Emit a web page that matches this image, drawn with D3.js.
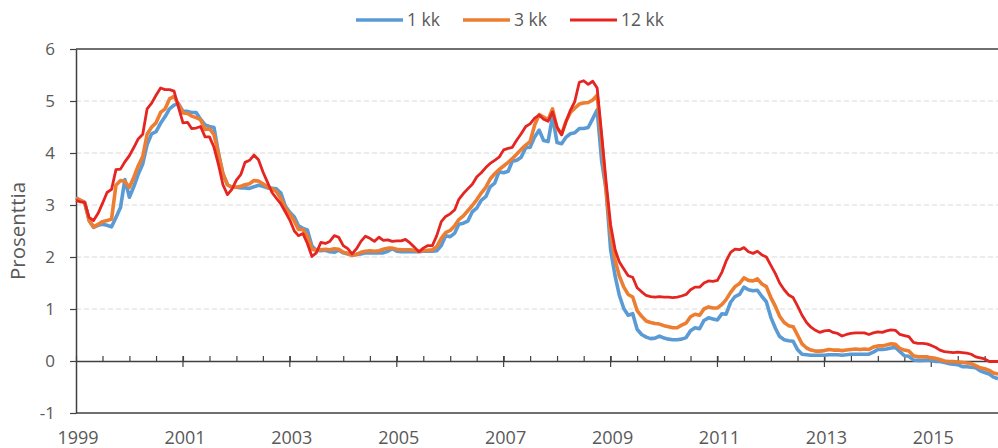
<!DOCTYPE html>
<html>
<head>
<meta charset="utf-8">
<script src="https://cdnjs.cloudflare.com/ajax/libs/d3/7.8.5/d3.min.js"></script>
<style>
  body { margin: 0; background: #fff; }
  svg text { font-family: "Open Sans", sans-serif; fill: #595959; }
</style>
</head>
<body>
<div id="chart"></div>
<script>
// Euribor monthly averages, Jan 1999 - Apr 2016
const startMonth = new Date(1999, 0, 1);

const oneMonth = [
  3.14, 3.09, 3.05, 2.70, 2.57, 2.61, 2.63, 2.61, 2.58, 2.76, 2.95, 3.49,
  3.15, 3.36, 3.59, 3.79, 4.16, 4.37, 4.41, 4.57, 4.70, 4.85, 4.92, 4.95,
  4.80, 4.80, 4.78, 4.78, 4.65, 4.54, 4.51, 4.49, 3.99, 3.60, 3.39, 3.34,
  3.34, 3.33, 3.33, 3.32, 3.35, 3.38, 3.36, 3.33, 3.32, 3.31, 3.23, 2.98,
  2.86, 2.77, 2.60, 2.55, 2.52, 2.21, 2.13, 2.12, 2.13, 2.10, 2.09, 2.13,
  2.08, 2.06, 2.04, 2.05, 2.06, 2.08, 2.08, 2.08, 2.08, 2.08, 2.11, 2.16,
  2.11, 2.10, 2.10, 2.10, 2.10, 2.10, 2.11, 2.11, 2.11, 2.12, 2.22, 2.41,
  2.39, 2.46, 2.63, 2.65, 2.69, 2.87, 2.94, 3.09, 3.16, 3.35, 3.42, 3.64,
  3.62, 3.65, 3.84, 3.86, 3.92, 4.10, 4.11, 4.31, 4.44, 4.24, 4.22, 4.71,
  4.20, 4.18, 4.30, 4.37, 4.39, 4.47, 4.47, 4.49, 4.66, 4.83, 3.84, 3.29,
  2.14, 1.63, 1.27, 1.01, 0.88, 0.91, 0.61, 0.51, 0.46, 0.43, 0.44, 0.48,
  0.44, 0.42, 0.41, 0.41, 0.42, 0.45, 0.58, 0.64, 0.62, 0.78, 0.83, 0.81,
  0.79, 0.91, 0.90, 1.13, 1.24, 1.28, 1.42, 1.37, 1.35, 1.36, 1.24, 1.14,
  0.84, 0.63, 0.47, 0.41, 0.39, 0.38, 0.22, 0.13, 0.12, 0.11, 0.11, 0.11,
  0.11, 0.12, 0.12, 0.12, 0.11, 0.12, 0.13, 0.13, 0.13, 0.13, 0.13, 0.17,
  0.22, 0.22, 0.23, 0.25, 0.26, 0.18, 0.10, 0.09, 0.02, 0.01, 0.01, 0.02,
  0.01, -0.01, -0.01, -0.03, -0.05, -0.06, -0.07, -0.11, -0.11, -0.12, -0.13, -0.19,
  -0.22, -0.25, -0.31, -0.34
];

const threeMonth = [
  3.13, 3.09, 3.05, 2.70, 2.58, 2.63, 2.68, 2.70, 2.73, 3.38, 3.47, 3.45,
  3.34, 3.54, 3.75, 3.93, 4.36, 4.50, 4.58, 4.78, 4.85, 5.04, 5.09, 4.94,
  4.77, 4.76, 4.71, 4.68, 4.64, 4.45, 4.47, 4.35, 3.98, 3.60, 3.39, 3.34,
  3.34, 3.36, 3.39, 3.41, 3.47, 3.46, 3.41, 3.35, 3.31, 3.26, 3.12, 2.94,
  2.83, 2.69, 2.53, 2.53, 2.40, 2.15, 2.13, 2.14, 2.15, 2.14, 2.16, 2.15,
  2.09, 2.07, 2.03, 2.05, 2.09, 2.11, 2.12, 2.11, 2.12, 2.15, 2.17, 2.17,
  2.15, 2.14, 2.14, 2.14, 2.13, 2.11, 2.12, 2.13, 2.14, 2.20, 2.36, 2.47,
  2.51, 2.60, 2.72, 2.79, 2.89, 2.99, 3.10, 3.23, 3.34, 3.50, 3.60, 3.68,
  3.75, 3.82, 3.89, 3.98, 4.07, 4.15, 4.22, 4.54, 4.74, 4.69, 4.64, 4.85,
  4.48, 4.36, 4.60, 4.78, 4.86, 4.94, 4.96, 4.97, 5.02, 5.11, 4.24, 3.29,
  2.46, 1.94, 1.64, 1.42, 1.28, 1.23, 0.97, 0.86, 0.77, 0.74, 0.72, 0.71,
  0.68, 0.66, 0.64, 0.64, 0.69, 0.73, 0.85, 0.90, 0.88, 1.00, 1.04, 1.02,
  1.02, 1.09, 1.18, 1.32, 1.43, 1.49, 1.60, 1.55, 1.54, 1.58, 1.48, 1.43,
  1.22, 1.05, 0.86, 0.74, 0.68, 0.66, 0.50, 0.33, 0.25, 0.21, 0.19, 0.19,
  0.20, 0.22, 0.21, 0.21, 0.20, 0.21, 0.22, 0.23, 0.22, 0.23, 0.22, 0.27,
  0.29, 0.29, 0.31, 0.33, 0.32, 0.24, 0.21, 0.19, 0.10, 0.08, 0.08, 0.08,
  0.06, 0.05, 0.03, 0.00, -0.01, -0.01, -0.02, -0.03, -0.04, -0.05, -0.09, -0.13,
  -0.15, -0.18, -0.23, -0.25
];

const twelveMonth = [
  3.09, 3.06, 3.05, 2.76, 2.70, 2.84, 3.03, 3.24, 3.30, 3.68, 3.69, 3.83,
  3.95, 4.11, 4.27, 4.36, 4.85, 4.96, 5.11, 5.25, 5.22, 5.22, 5.19, 4.88,
  4.58, 4.59, 4.47, 4.48, 4.51, 4.31, 4.31, 4.11, 3.77, 3.39, 3.20, 3.30,
  3.48, 3.59, 3.82, 3.86, 3.96, 3.87, 3.64, 3.44, 3.24, 3.13, 3.02, 2.87,
  2.71, 2.50, 2.41, 2.45, 2.26, 2.01, 2.08, 2.28, 2.26, 2.30, 2.41, 2.38,
  2.22, 2.16, 2.06, 2.16, 2.30, 2.40, 2.36, 2.30, 2.38, 2.32, 2.33, 2.30,
  2.31, 2.31, 2.34, 2.27, 2.19, 2.10, 2.17, 2.22, 2.22, 2.41, 2.68, 2.78,
  2.83, 2.91, 3.11, 3.22, 3.31, 3.40, 3.54, 3.62, 3.72, 3.80, 3.86, 3.92,
  4.06, 4.09, 4.11, 4.25, 4.37, 4.51, 4.56, 4.67, 4.73, 4.65, 4.61, 4.79,
  4.50, 4.35, 4.59, 4.82, 4.99, 5.36, 5.39, 5.32, 5.38, 5.25, 4.35, 3.45,
  2.62, 2.14, 1.91, 1.77, 1.64, 1.61, 1.41, 1.33, 1.26, 1.24, 1.23, 1.24,
  1.23, 1.23, 1.22, 1.23, 1.25, 1.28, 1.37, 1.42, 1.42, 1.50, 1.54, 1.53,
  1.55, 1.71, 1.92, 2.09, 2.15, 2.14, 2.18, 2.10, 2.07, 2.11, 2.04, 2.00,
  1.84, 1.68, 1.50, 1.37, 1.27, 1.22, 1.06, 0.88, 0.74, 0.65, 0.59, 0.55,
  0.58, 0.59, 0.55, 0.53, 0.48, 0.51, 0.53, 0.54, 0.54, 0.54, 0.51, 0.54,
  0.56, 0.55, 0.58, 0.60, 0.59, 0.51, 0.49, 0.47, 0.36, 0.34, 0.34, 0.33,
  0.30, 0.26, 0.21, 0.18, 0.17, 0.16, 0.17, 0.16, 0.15, 0.13, 0.08, 0.06,
  0.04, -0.01, -0.01, -0.01
];

const seriesNames = ["1 kk", "3 kk", "12 kk"];
const yTicks = [-1, 0, 1, 2, 3, 4, 5, 6];
const yearLabels = ["1999", "2001", "2003", "2005", "2007", "2009", "2011", "2013", "2015"];

const width = 998;
const height = 448;
const margin = { top: 49, right: 0, bottom: 35, left: 76 };

const svg = d3.select("#chart").append("svg")
    .attr("width", width)
    .attr("height", height);

const months = oneMonth.map(function(d, i) { return d3.timeMonth.offset(startMonth, i); });

const x = d3.scaleTime()
    .domain([startMonth, months[months.length - 1]])
    .range([margin.left, width - margin.right]);

const y = d3.scaleLinear()
    .domain([-1, 6])
    .range([height - margin.bottom, margin.top]);

// dashed gridlines
svg.append("g")
  .selectAll("line")
  .data(yTicks.filter(function(d) { return d > 0 && d < 6; }))
  .enter().append("line")
    .attr("x1", margin.left)
    .attr("x2", width)
    .attr("y1", function(d) { return y(d); })
    .attr("y2", function(d) { return y(d); })
    .attr("stroke", "#d9d9d9")
    .attr("stroke-width", 1.2)
    .attr("stroke-dasharray", "5,3");

// top and bottom borders
svg.append("g")
  .selectAll("line")
  .data([6, -1])
  .enter().append("line")
    .attr("x1", margin.left)
    .attr("x2", width)
    .attr("y1", function(d) { return y(d); })
    .attr("y2", function(d) { return y(d); })
    .attr("stroke", "#404040")
    .attr("stroke-width", 1.5);

// y axis
const yAxisG = svg.append("g")
    .attr("transform", "translate(" + margin.left + ",0)")
    .call(d3.axisLeft(y).tickValues(yTicks).tickSize(6).tickSizeOuter(0).tickPadding(15)
      .tickFormat(function(d) { return String(d); }));
yAxisG.select(".domain").attr("stroke", "#404040").attr("stroke-width", 1.5);
yAxisG.selectAll(".tick line").attr("stroke", "#404040").attr("stroke-width", 1.2);
yAxisG.selectAll(".tick text")
    .style("font-size", "17px")
    .attr("fill", "#595959");

// x axis on zero line: half-year minor ticks pointing up
const halfYears = d3.timeMonth.every(6).range(startMonth, months[months.length - 1]);
const majorYears = yearLabels.map(function(d) { return new Date(+d, 0, 1); });

const xMinor = svg.append("g")
    .attr("transform", "translate(0," + y(0) + ")")
    .call(d3.axisTop(x).tickValues(halfYears).tickSize(5).tickSizeOuter(0).tickFormat(""));
xMinor.select(".domain").attr("stroke", "#404040").attr("stroke-width", 1.5);
xMinor.selectAll(".tick line").attr("stroke", "#404040").attr("stroke-width", 1.2);

svg.append("g")
  .selectAll("line")
  .data(majorYears.slice(1))
  .enter().append("line")
    .attr("x1", function(d) { return x(d); })
    .attr("x2", function(d) { return x(d); })
    .attr("y1", y(0) - 5)
    .attr("y2", y(0) + 6)
    .attr("stroke", "#404040")
    .attr("stroke-width", 1.2);

// year labels below the plot
svg.append("g")
  .selectAll("text")
  .data(majorYears)
  .enter().append("text")
    .attr("x", function(d) { return x(d) + 2; })
    .attr("y", 444)
    .attr("text-anchor", "middle")
    .style("font-size", "18px")
    .text(function(d, i) { return yearLabels[i]; });

// y axis title
svg.append("text")
    .attr("transform", "rotate(-90)")
    .attr("x", -231)
    .attr("y", 25)
    .attr("text-anchor", "middle")
    .style("font-size", "20.5px")
    .text("Prosenttia");

// lines
const colors = d3.scaleOrdinal()
    .domain(seriesNames)
    .range(["#5b9bd5", "#ed7d31", "#e52521"]);
const strokeWidths = d3.scaleOrdinal()
    .domain(seriesNames)
    .range([3.6, 3.6, 2.8]);

const series = [oneMonth, threeMonth, twelveMonth].map(function(values, k) {
  return { key: seriesNames[k], values: values.map(function(v, i) { return { date: months[i], value: v }; }) };
});

const line = d3.line()
    .x(function(d) { return x(d.date); })
    .y(function(d) { return y(d.value); });

svg.append("g")
  .selectAll("path")
  .data(series)
  .enter().append("path")
    .attr("d", function(d) { return line(d.values); })
    .attr("fill", "none")
    .attr("stroke", function(d) { return colors(d.key); })
    .attr("stroke-width", function(d) { return strokeWidths(d.key); })
    .attr("stroke-linejoin", "round");

// legend
const legend = svg.selectAll(".legend")
    .data(seriesNames)
    .enter().append("g")
    .attr("class", "legend")
    .attr("transform", function(d, i) { return "translate(" + (356 + i * 107) + ",20)"; });

legend.append("line")
    .attr("x1", 0)
    .attr("x2", 47)
    .attr("stroke", function(d) { return colors(d); })
    .attr("stroke-width", function(d) { return strokeWidths(d); });

legend.append("text")
    .attr("x", 51)
    .attr("dy", "0.35em")
    .style("font-size", "17.5px")
    .text(function(d) { return d; });
</script>
</body>
</html>
